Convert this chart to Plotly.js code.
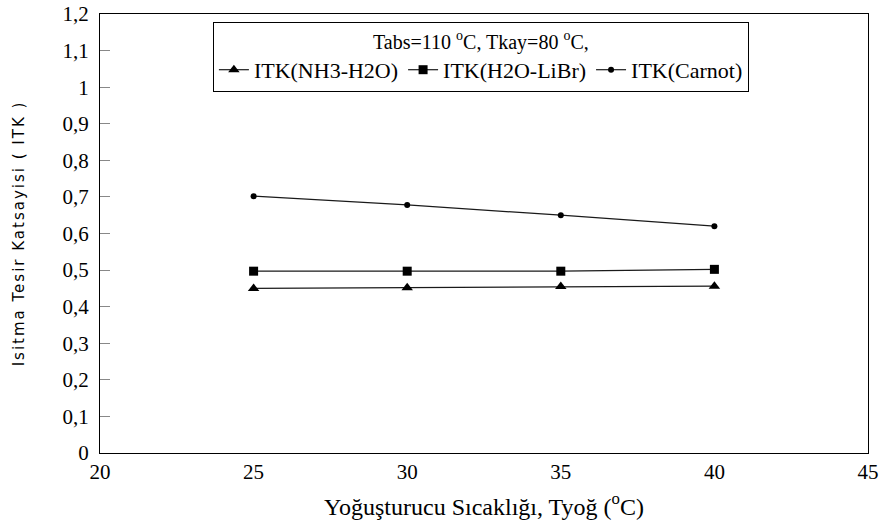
<!DOCTYPE html>
<html>
<head>
<meta charset="utf-8">
<script src="https://cdn.plot.ly/plotly-3.0.1.min.js"></script>
<style>html,body{margin:0;padding:0;background:#fff;}#chart{width:884px;height:524px;}</style>
</head>
<body>
<div id="chart"></div>
<script>
const xTemps = [25, 30, 35, 40];
const itkNH3 = [0.450, 0.452, 0.455, 0.456];
const itkLiBr = [0.497, 0.497, 0.497, 0.502];
const itkCarnot = [0.702, 0.678, 0.650, 0.620];
const seriesNames = ['ITK(NH3-H2O)', 'ITK(H2O-LiBr)', 'ITK(Carnot)'];
const yTicks = [0, 0.1, 0.2, 0.3, 0.4, 0.5, 0.6, 0.7, 0.8, 0.9, 1, 1.1, 1.2];
const xTicks = [20, 25, 30, 35, 40, 45];

const serif = 'Liberation Serif';
const sans = 'DejaVu Sans';
const lineCol = '#1a1a1a';

const traces = [
  {x: xTemps, y: itkNH3, name: seriesNames[0], mode: 'lines+markers',
   line: {color: lineCol, width: 1.2}, marker: {symbol: 'triangle-up', size: 10, color: '#000'}},
  {x: xTemps, y: itkLiBr, name: seriesNames[1], mode: 'lines+markers',
   line: {color: lineCol, width: 1.2}, marker: {symbol: 'square', size: 9, color: '#000'}},
  {x: xTemps, y: itkCarnot, name: seriesNames[2], mode: 'lines+markers',
   line: {color: lineCol, width: 1.2}, marker: {symbol: 'circle', size: 6, color: '#000'}}
];

const layout = {
  width: 884, height: 524,
  margin: {l: 100, r: 16, t: 14, b: 71},
  paper_bgcolor: '#fff', plot_bgcolor: '#fff',
  separators: ',.',
  font: {family: serif, size: 20, color: '#000'},
  showlegend: true,
  legend: {
    orientation: 'h', x: 0.147, y: 0.982, xanchor: 'left', yanchor: 'top',
    bordercolor: '#000', borderwidth: 1, bgcolor: '#fff',
    font: {family: serif, size: 22, color: '#000'},
    itemwidth: 30, tracegroupgap: 0,
    title: {text: 'Tabs=110 <sup>o</sup>C, Tkay=80 <sup>o</sup>C,', side: 'top center',
            font: {family: serif, size: 20, color: '#000'}}
  },
  xaxis: {
    range: [20, 45], tickvals: xTicks, ticks: '', showgrid: false, zeroline: false,
    showline: true, linecolor: '#000', linewidth: 1, mirror: true,
    tickfont: {family: serif, size: 21, color: '#000'},
    title: {text: 'Yoğuşturucu Sıcaklığı, Tyoğ (<sup>o</sup>C)', font: {family: serif, size: 24, color: '#000'}, standoff: 14}
  },
  yaxis: {
    range: [0, 1.2], tickvals: yTicks, ticks: 'inside', ticklen: 10, tickcolor: '#888', tickwidth: 1,
    showgrid: false, zeroline: false, ticklabelstandoff: 6,
    showline: true, linecolor: '#000', linewidth: 1, mirror: true,
    tickfont: {family: serif, size: 21, color: '#000'},
    title: {text: 'Isitma Tesir Katsayisi ( ITK )', font: {family: sans, size: 15, color: '#000'}, standoff: 34}
  }
};

Plotly.newPlot('chart', traces, layout, {displayModeBar: false, staticPlot: true}).then(function (gd) {
  const yt = gd.querySelector('.ytitle');
  if (yt) { yt.style.letterSpacing = '2px'; }
});
</script>
</body>
</html>
